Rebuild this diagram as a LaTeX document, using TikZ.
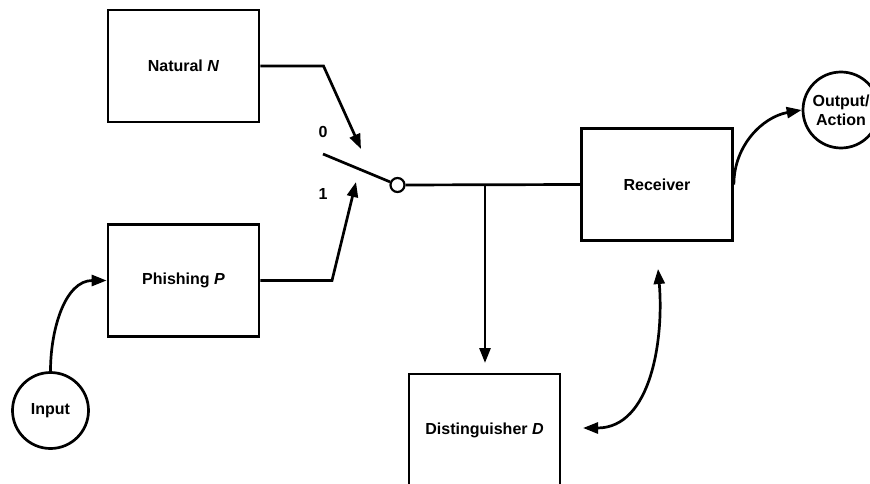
\documentclass[tikz,border=0pt]{standalone}
\usepackage{fontspec}
\setmainfont{Liberation Sans}
\usetikzlibrary{arrows.meta}

\begin{document}
\begin{tikzpicture}[x=1pt,y=-1pt,line width=2.7pt,
	box/.style={draw,minimum width=151pt,minimum height=112pt,inner sep=0pt},
	ball/.style={draw,circle,minimum size=76pt,inner sep=0pt,align=center},
	arr/.style={-{Triangle[length=15pt,width=11pt]}}]
	\fontsize{16}{19}\selectfont\bfseries
	\useasboundingbox (0,0) rectangle (870,484);
	\node[box] (N) at (183.5,66) {Natural \textit{N}};
	\node[box] (P) at (183.5,280.5) {Phishing \textit{P}};
	\node[box] (R) at (657,184.5) {Receiver};
	\node[box] (D) at (484.5,430) {Distinguisher \textit{D}};
	\node[ball] (In) at (50.5,410.5) {Input};
	\node[ball] (Out) at (841,110) {Output/\\Action};
	\node[draw,circle,minimum size=14pt,inner sep=0pt,line width=2.2pt] (S) at (397.5,185) {};
	\coordinate (L) at (323,154);
	\coordinate (T0) at (361,149);
	\coordinate (T1) at (356,182);
	\coordinate (J) at (485,185);
	\coordinate (DT) at (485,363);
	\node at (323,132) {0};
	\node at (323,194) {1};
	
	\draw (L)--(S);
	\draw[arr] (N.east)--(323.5,66)--(T0);
	\draw[arr] (P.east)--(332,280.5)--(T1);
	\draw (S)--(R.west);
	\draw[arr] (J)--(DT);
	\draw[arr] (In.north) to[out=90,in=180] (P.west);
	\draw[arr] (R.east) to[out=90,in=190] (Out.west);
	\draw[{Triangle[length=15pt,width=11pt]}-{Triangle[length=15pt,width=11pt]}] (583,428) to[out=0,in=-85] (658,269);
	
\end{tikzpicture}
\end{document}
